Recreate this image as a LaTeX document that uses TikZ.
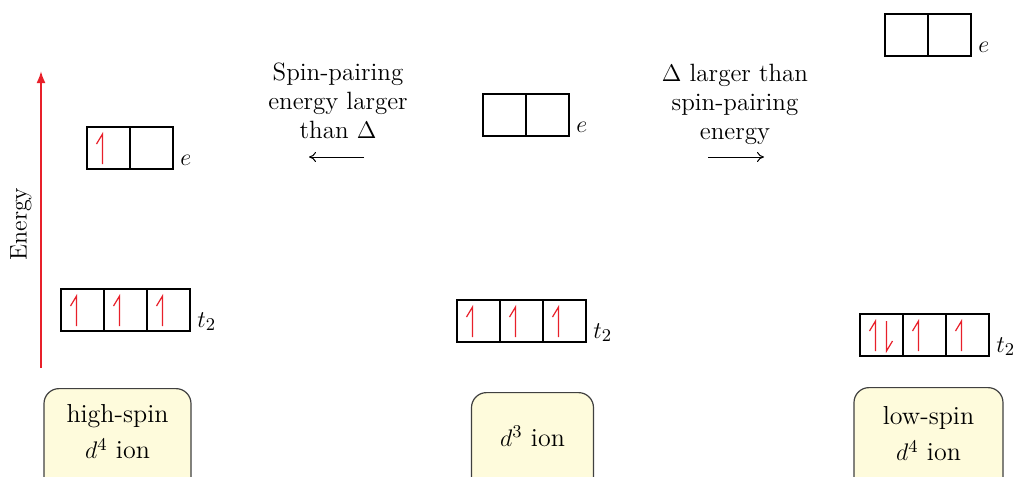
\documentclass[tikz,border=0pt]{standalone}
\usetikzlibrary{calc,arrows.meta}
\definecolor{spinred}{HTML}{E8202A}
\definecolor{ionfill}{HTML}{FEFBDC}
\definecolor{ionline}{HTML}{404040}
\newcommand\upspin[1]{\draw[spin] ($(#1)+(-6,16)$) -- ($(#1)+(-6,-14)$) -- ($(#1)+(-12,-4)$);}
\newcommand\dnspin[1]{\draw[spin] ($(#1)+(5,-14)$) -- ($(#1)+(5,16)$) -- ($(#1)+(11,6)$);}
\tikzset{
  orb/.style={draw, line width=0.6pt, minimum width=21.5pt, minimum height=21pt, inner sep=0pt, outer sep=0pt},
  spin/.style={draw=spinred, line width=0.6pt, line join=miter},
  lvl/.style={anchor=base west, inner sep=0pt, font=\fontsize{12.5}{14}\selectfont},
  ionbox/.style={draw=ionline, fill=ionfill, line width=0.6pt, rounded corners=7.5pt, anchor=north, minimum height=60pt, inner sep=0pt},
  iontext/.style={align=center, font=\fontsize{13}{18}\selectfont, inner sep=0pt},
  note/.style={align=center, font=\fontsize{12.5}{14.5}\selectfont, inner sep=0pt},
  conv/.style={-{To[length=3.5pt,width=5pt]}, line width=0.5pt},
}
\begin{document}
\begin{tikzpicture}[x=0.5pt,y=-0.5pt]
\useasboundingbox (0,0) rectangle (1014,477);
\clip (0,0) rectangle (1014,477);
% energy axis
\coordinate (ebot) at (41,368);
\coordinate (etop) at (41,71);
\draw[spinred, line width=1pt, -{Latex[length=6pt,width=4.5pt]}] (ebot) -- (etop);
\node[rotate=90, font=\fontsize{12}{14}\selectfont, inner sep=0pt] (energy) at (21,224) {Energy};
% high-spin e
\node[orb] (he1) at (108.5,148) {};
\node[orb] (he2) at (151.5,148) {};
\node[lvl] (hel) at ($(he2.south east)+(7,-4)$) {$e$};
\upspin{he1}
% high-spin t2
\node[orb] (ht1) at (82.5,310) {};
\node[orb] (ht2) at (125.5,310) {};
\node[orb] (ht3) at (168.5,310) {};
\node[lvl] (htl) at ($(ht3.south east)+(7,-4)$) {$t_2$};
\upspin{ht1}\upspin{ht2}\upspin{ht3}
% middle e
\node[orb] (me1) at (504.5,115) {};
\node[orb] (me2) at (547.5,115) {};
\node[lvl] (mel) at ($(me2.south east)+(7,-4)$) {$e$};
% middle t2
\node[orb] (mt1) at (478.5,321) {};
\node[orb] (mt2) at (521.5,321) {};
\node[orb] (mt3) at (564.5,321) {};
\node[lvl] (mtl) at ($(mt3.south east)+(7,-4)$) {$t_2$};
\upspin{mt1}\upspin{mt2}\upspin{mt3}
% low-spin e
\node[orb] (le1) at (906.5,35) {};
\node[orb] (le2) at (949.5,35) {};
\node[lvl] (lel) at ($(le2.south east)+(7,-4)$) {$e$};
% low-spin t2
\node[orb] (lt1) at (881.5,335) {};
\node[orb] (lt2) at (924.5,335) {};
\node[orb] (lt3) at (967.5,335) {};
\node[lvl] (ltl) at ($(lt3.south east)+(7,-4)$) {$t_2$};
\upspin{lt1}\dnspin{lt1}\upspin{lt2}\upspin{lt3}
% notes
\node[note] (nleft) at (338,101) {Spin-pairing\\energy larger\\than $\Delta$};
\coordinate (la) at (364,157);
\coordinate (lb) at (309,157);
\draw[conv] (la) -- (lb);
\node[note] (nright) at (735,104) {$\Delta$ larger than\\spin-pairing\\energy};
\coordinate (ra) at (708,157);
\coordinate (rb) at (764,157);
\draw[conv] (ra) -- (rb);
% ion boxes
\node[ionbox, minimum width=73.5pt] (hsbox) at (117.5,388) {};
\node[iontext] (hstext) at ($(hsbox.north)+(0,44)$) {high-spin\\$d^4$ ion};
\node[ionbox, minimum width=61pt] (d3box) at (532.5,392) {};
\node[iontext] (d3text) at ($(d3box.north)+(0,44)$) {$d^3$ ion};
\node[ionbox, minimum width=74.5pt] (lsbox) at (928.5,387) {};
\node[iontext] (lstext) at ($(lsbox.north)+(0,47)$) {low-spin\\$d^4$ ion};
\end{tikzpicture}
\end{document}
